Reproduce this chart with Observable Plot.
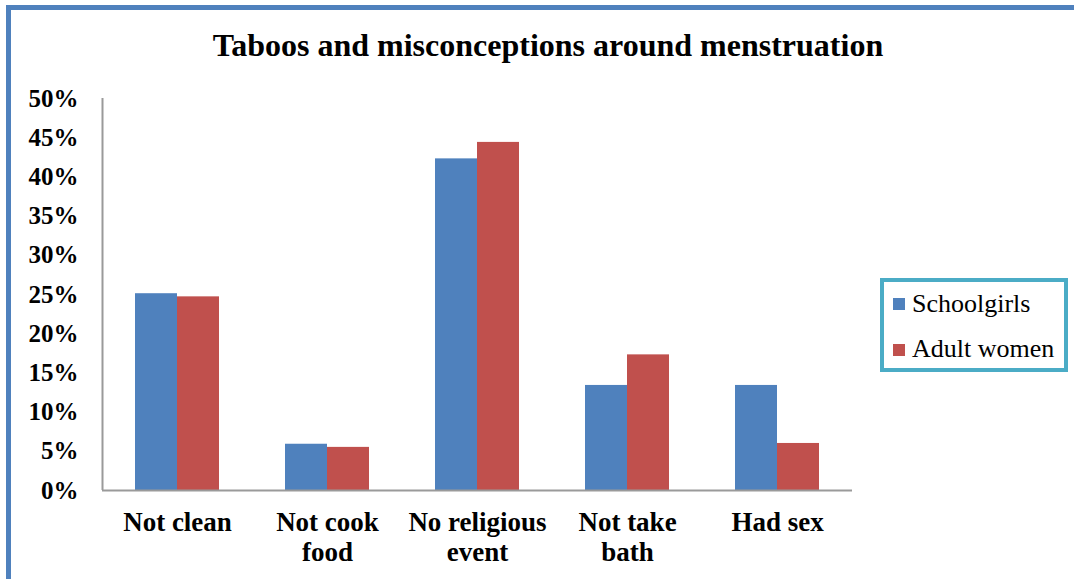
<!DOCTYPE html>
<html>
<head>
<meta charset="utf-8">
<script src="https://cdn.jsdelivr.net/npm/d3@7"></script>
<script src="https://cdn.jsdelivr.net/npm/@observablehq/plot@0.6"></script>
<style>
  html, body { margin: 0; padding: 0; background: #fff; }
  #wrap { position: relative; width: 1074px; height: 579px; overflow: hidden; }
  #frame { position: absolute; left: 6px; top: 5px; width: 1200px; height: 700px; border-left: 5px solid #4F81BD; border-top: 5px solid #4F81BD; }
  #chart { position: absolute; left: 0; top: 0; }
</style>
</head>
<body>
<div id="wrap">
  <div id="frame"></div>
  <div id="chart"></div>
  <div id="title" style="position:absolute;left:0;width:1096px;top:30px;text-align:center;font-family:'Liberation Serif';font-weight:bold;font-size:32px;line-height:31px;color:#000;">Taboos and misconceptions around menstruation</div>
  <div id="legend" style="position:absolute;left:880px;top:278px;width:180px;height:86px;border:4px solid #4BACC6;background:#fff;"></div>
</div>
<script>
const categories = ["Not clean", "Not cook food", "No religious event", "Not take bath", "Had sex"];
const categoryLabels = ["Not clean", "Not cook\nfood", "No religious\nevent", "Not take\nbath", "Had sex"];
const series = ["Schoolgirls", "Adult women"];
const schoolgirls = [0.251, 0.059, 0.423, 0.134, 0.134];
const adultWomen = [0.247, 0.055, 0.444, 0.173, 0.060];
const colors = ["#4F81BD", "#C0504D"];
const yTicks = [0, 0.05, 0.10, 0.15, 0.20, 0.25, 0.30, 0.35, 0.40, 0.45, 0.50];

const FONT = "'Liberation Serif'";

const data = [];
categories.forEach((c, i) => {
  data.push({category: c, series: series[0], value: schoolgirls[i]});
  data.push({category: c, series: series[1], value: adultWomen[i]});
});
const labelOf = new Map(categories.map((c, i) => [c, categoryLabels[i]]));

const chart = Plot.plot({
  width: 1074,
  height: 579,
  marginLeft: 102,
  marginRight: 222,
  marginTop: 98,
  marginBottom: 89,
  style: {fontFamily: FONT, background: "transparent", color: "#000"},
  x: {domain: categories, padding: 0},
  y: {domain: [0, 0.5]},
  color: {domain: series, range: colors},
  marks: [
    Plot.barY(data.filter(d => d.series === series[0]), {x: "category", y: "value", fill: "series", insetLeft: 33, insetRight: 75}),
    Plot.barY(data.filter(d => d.series === series[1]), {x: "category", y: "value", fill: "series", insetLeft: 75, insetRight: 33}),
    Plot.ruleY([0], {stroke: "#9a9a9a", strokeWidth: 2}),
    Plot.ruleX([categories[0]], {dx: -75, stroke: "#9a9a9a", strokeWidth: 2}),
    Plot.axisY({ticks: yTicks, tickFormat: d3.format(".0%"), tickSize: 0, tickPadding: 24, label: null, fontFamily: FONT, fontSize: 25, fontWeight: "bold", fill: "#000"}),
    Plot.axisX({tickFormat: d => labelOf.get(d), tickSize: 0, tickPadding: 19, label: null, fontFamily: FONT, fontSize: 27, fontWeight: "bold", fill: "#000", lineHeight: 1.12})
  ]
});
document.getElementById("chart").appendChild(chart);

const legend = document.getElementById("legend");
series.forEach((s, i) => {
  const sw = document.createElement("div");
  sw.style.cssText = `position:absolute;left:9px;top:${i === 0 ? 16 : 62}px;width:12px;height:12px;background:${colors[i]};`;
  legend.appendChild(sw);
  const t = document.createElement("div");
  t.style.cssText = `position:absolute;left:28px;top:${i === 0 ? 9 : 54}px;font-family:'Liberation Serif';font-size:26px;line-height:26px;white-space:nowrap;color:#000;`;
  t.textContent = s;
  legend.appendChild(t);
});
</script>
</body>
</html>
